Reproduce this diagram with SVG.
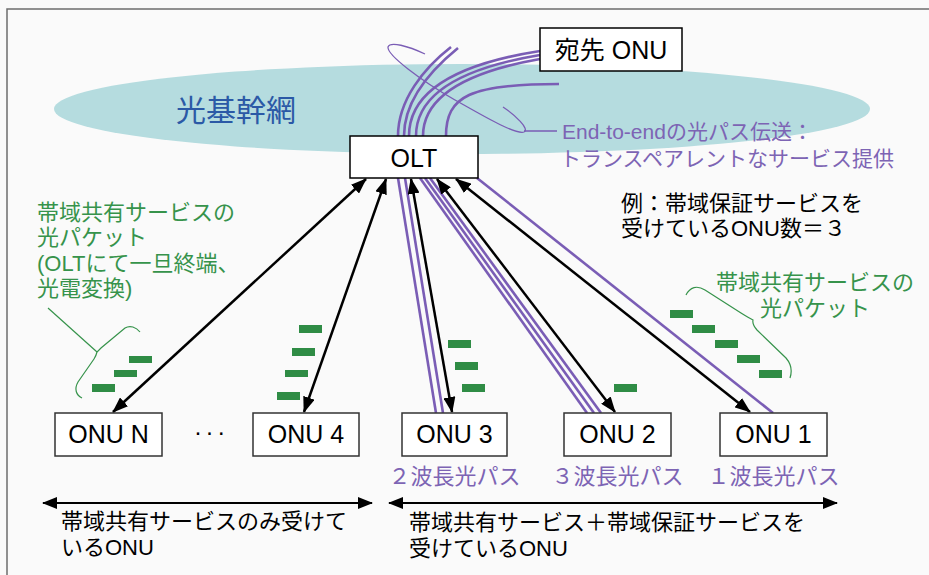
<svg xmlns="http://www.w3.org/2000/svg" width="929" height="575" viewBox="0 0 929 575">
<defs>
<style>
text{font-family:'Liberation Sans','Noto Sans CJK JP',sans-serif}
.box{fill:#fff;stroke:#333;stroke-width:1.5}
.lbl{font-size:25px;fill:#000;text-anchor:middle}
.blk{font-size:22px;fill:#000}
.grn{font-size:22px;fill:#36934b}
.pur{font-size:21px;fill:#7d64b4}
.wl{font-size:22px;fill:#7d64b4;text-anchor:middle}
.pl{fill:none;stroke:#7a5db5;stroke-width:2.6}
.thinp{fill:none;stroke:#7a5db5;stroke-width:1.3}
.ar{fill:none;stroke:#000;stroke-width:2.5;marker-start:url(#ah);marker-end:url(#ah)}
.har{fill:none;stroke:#000;stroke-width:2;marker-start:url(#ah2);marker-end:url(#ah2)}
.pk{fill:#2f8c45}
.br{fill:none;stroke:#36934b;stroke-width:1.2}
</style>
<marker id="ah" viewBox="0 0 16 12" refX="15" refY="6" markerWidth="16" markerHeight="12" markerUnits="userSpaceOnUse" orient="auto-start-reverse"><path d="M0,0 L16,6 L0,12 z" fill="#000"/></marker>
<marker id="ah2" viewBox="0 0 15 12" refX="14" refY="6" markerWidth="15" markerHeight="12" markerUnits="userSpaceOnUse" orient="auto-start-reverse"><path d="M0,0 L15,6 L0,12 z" fill="#000"/></marker>
</defs>
<rect x="0" y="0" width="929" height="575" fill="#fafafa"/>
<path d="M7,575 L7,9 L929,9" fill="none" stroke="#6e6e6e" stroke-width="1.5"/>

<g id="backbone">
<ellipse cx="462" cy="109" rx="408" ry="45" fill="#b5dcdf"/>
<text x="176" y="121" style="font-size:30px;fill:#2b59a6">光基幹網</text>
</g>

<g id="connectors">
<!-- purple optical paths above OLT -->
<path class="pl" d="M451,47 C424,68 398,100 398,136"/>
<path class="pl" d="M458,48 C431,70 404,100 404,136"/>
<path class="pl" d="M540,51 C470,62 409,85 409,136"/>
<path class="pl" d="M540,55 C474,66 416,88 416,136"/>
<path class="pl" d="M540,59 C478,70 423,91 423,136"/>
<path class="pl" d="M559,84 C470,84 446,96 446,136"/>
<!-- purple optical paths below OLT -->
<path class="pl" d="M398,178 L436,413"/>
<path class="pl" d="M405,178 L443,413"/>
<path class="pl" d="M420,178 L587,413"/>
<path class="pl" d="M425,178 L594,413"/>
<path class="pl" d="M430,178 L601,413"/>
<path class="pl" d="M477,178 L773,413"/>
<!-- callout loop -->
<path class="thinp" d="M425,54 C408,46 390,41 388,47 C387,55 420,80 455,100 C480,114 515,135 524,132 C530,129 515,115 503,107"/>
<path class="thinp" d="M524,131 L557,131"/>
<!-- black bidirectional arrows -->
<path class="ar" d="M366,179 L113,412"/>
<path class="ar" d="M386,179 L304,412"/>
<path class="ar" d="M411,179 L452,412"/>
<path class="ar" d="M437,179 L615,412"/>
<path class="ar" d="M456,179 L750,412"/>
<!-- horizontal range arrows -->
<path class="har" d="M43,503 L372,503"/>
<path class="har" d="M389,503 L837,503"/>
<!-- braces -->
<path class="br" d="M48,308 L97,352"/>
<path class="br" d="M140,332 C136,327 130,325 125,328 L101,348 Q98,351 97,352 Q96,356 94,359 L78,382 C74,389 76,395 82,398"/>
<path class="br" d="M686,295 C690,287 697,285 705,290 L741,313 Q749,318 753,320 Q752,324 757,330 L786,358 C792,365 792,372 790,378"/>
</g>

<g id="olt">
<rect class="box" x="350" y="136" width="128" height="42" style="stroke:#000"/>
<text class="lbl" x="414" y="167">OLT</text>
</g>
<g id="dest-onu">
<rect class="box" x="540" y="28" width="142" height="43" style="stroke:#000"/>
<text class="lbl" x="611" y="59">宛先 ONU</text>
</g>
<g id="onu-n">
<rect class="box" x="55" y="413" width="107" height="43"/>
<text class="lbl" x="108.5" y="443">ONU N</text>
</g>
<g id="dots">
<text x="194" y="440" style="font-size:24px;letter-spacing:3.6px;fill:#000">···</text>
</g>
<g id="onu-4">
<rect class="box" x="253" y="413" width="106" height="43"/>
<text class="lbl" x="306" y="443">ONU 4</text>
</g>
<g id="onu-3">
<rect class="box" x="402" y="413" width="105" height="43"/>
<text class="lbl" x="454.5" y="443">ONU 3</text>
</g>
<g id="onu-2">
<rect class="box" x="564" y="413" width="107" height="43"/>
<text class="lbl" x="617.5" y="443">ONU 2</text>
</g>
<g id="onu-1">
<rect class="box" x="720" y="413" width="107" height="43"/>
<text class="lbl" x="773.5" y="443">ONU 1</text>
</g>

<g id="packets">
<rect class="pk" x="129" y="356" width="23" height="7"/>
<rect class="pk" x="114" y="370" width="23" height="7"/>
<rect class="pk" x="92" y="384" width="23" height="8"/>
<rect class="pk" x="299" y="325" width="23" height="8"/>
<rect class="pk" x="292" y="348" width="23" height="8"/>
<rect class="pk" x="285" y="370" width="23" height="7"/>
<rect class="pk" x="277" y="392" width="23" height="8"/>
<rect class="pk" x="448" y="340" width="23" height="8"/>
<rect class="pk" x="455" y="362" width="23" height="8"/>
<rect class="pk" x="462" y="384" width="23" height="8"/>
<rect class="pk" x="614" y="384" width="23" height="8"/>
<rect class="pk" x="670" y="310" width="23" height="8"/>
<rect class="pk" x="692" y="325" width="23" height="8"/>
<rect class="pk" x="715" y="340" width="23" height="8"/>
<rect class="pk" x="737" y="355" width="23" height="8"/>
<rect class="pk" x="759" y="370" width="23" height="8"/>
</g>

<g id="labels">
<text class="pur" x="562" y="139">End-to-endの光パス伝送：</text>
<text class="pur" x="560" y="166">トランスペアレントなサービス提供</text>
<text class="blk" x="621" y="211">例：帯域保証サービスを</text>
<text class="blk" x="621" y="236">受けているONU数＝３</text>
<text class="grn" x="37" y="220">帯域共有サービスの</text>
<text class="grn" x="37" y="245">光パケット</text>
<text class="grn" x="37" y="271">(OLTにて一旦終端、</text>
<text class="grn" x="37" y="296">光電変換)</text>
<text class="grn" x="815" y="290" text-anchor="middle">帯域共有サービスの</text>
<text class="grn" x="815" y="316" text-anchor="middle">光パケット</text>
<text class="wl" x="454.5" y="484">２波長光パス</text>
<text class="wl" x="617.5" y="484">３波長光パス</text>
<text class="wl" x="773.5" y="484">１波長光パス</text>
<text class="blk" x="61" y="529">帯域共有サービスのみ受けて</text>
<text class="blk" x="61" y="555">いるONU</text>
<text class="blk" x="409" y="530">帯域共有サービス＋帯域保証サービスを</text>
<text class="blk" x="409" y="556">受けているONU</text>
</g>
</svg>
